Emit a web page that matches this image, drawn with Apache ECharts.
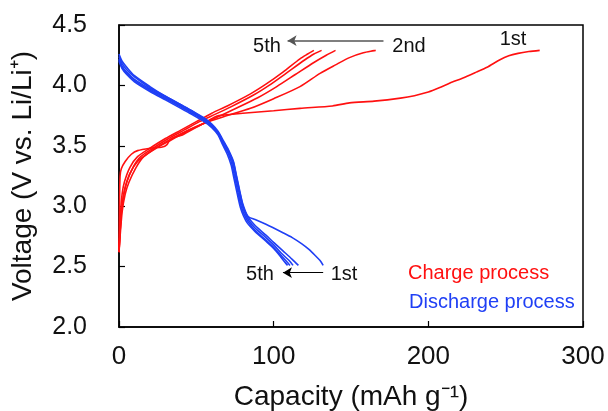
<!DOCTYPE html>
<html>
<head>
<meta charset="utf-8">
<title>Charge / discharge curves</title>
<script src="https://cdn.jsdelivr.net/npm/echarts@6/dist/echarts.min.js"></script>
<style>
	html, body { margin: 0; padding: 0; background: #fff; }
	#chart { width: 608px; height: 411px; }
</style>
</head>
<body>
<div id="chart"></div>
<script type="text/javascript">
	// capacity (mAh/g), voltage (V)
	var charge1 = [[0,2.62],[0.3,3.0],[0.7,3.25],[1.5,3.31],[4,3.37],[8,3.43],[12,3.46],[20,3.48],[28,3.49],[31,3.51],[33,3.55],[36,3.57],[41,3.59],[51,3.66],[58,3.71],[63,3.745],[68,3.755],[80,3.77],[100,3.79],[117,3.81],[138,3.83],[149,3.855],[165,3.87],[182,3.895],[191,3.915],[200,3.945],[207,3.98],[214,4.02],[222,4.06],[231,4.11],[238,4.15],[246,4.21],[252,4.245],[258,4.265],[265,4.28],[272,4.29]];
	var charge2 = [[0,2.62],[1,2.85],[2,3.0],[4,3.15],[7,3.27],[12,3.37],[20,3.45],[30,3.53],[40,3.6],[50,3.66],[60,3.71],[70,3.75],[85,3.81],[100,3.89],[117,3.99],[130,4.1],[140,4.17],[149,4.23],[158,4.27],[166,4.29]];
	var charge3 = [[0,2.62],[2,2.95],[4,3.1],[6.5,3.2],[11,3.32],[16,3.41],[24,3.48],[34,3.55],[44,3.62],[54,3.68],[64,3.74],[74,3.8],[90,3.9],[102,3.99],[114,4.09],[126,4.19],[134,4.25],[140,4.29]];
	var charge4 = [[0,2.62],[1.5,2.95],[3,3.1],[5,3.2],[9,3.32],[14,3.41],[22,3.48],[32,3.56],[42,3.63],[52,3.7],[62,3.76],[72,3.82],[87,3.92],[97,4.0],[108,4.1],[120,4.21],[126,4.26],[131,4.29]];
	var charge5 = [[0,2.62],[1,2.95],[2,3.1],[3.5,3.2],[7,3.32],[12,3.41],[20,3.48],[30,3.56],[40,3.63],[50,3.7],[60,3.77],[70,3.83],[85,3.93],[95,4.01],[106,4.11],[117,4.22],[122,4.26],[126,4.29]];

	var discharge1 = [[0,4.26],[2,4.2],[5,4.15],[10,4.08],[20,3.99],[30,3.91],[40,3.84],[47,3.79],[55,3.72],[60,3.67],[64,3.61],[68,3.52],[71,3.45],[74,3.36],[76,3.24],[78,3.12],[80,3.01],[82,2.94],[84,2.91],[88,2.89],[95,2.85],[106,2.78],[112,2.74],[118,2.69],[123,2.64],[127,2.59],[130,2.55],[132,2.51]];
	var discharge2 = [[0,4.24],[2,4.18],[5,4.13],[10,4.07],[20,3.98],[30,3.91],[40,3.84],[47,3.79],[55,3.73],[60,3.68],[64,3.62],[68,3.53],[71,3.46],[74,3.37],[76,3.25],[78,3.13],[80,3.02],[82,2.95],[84,2.9],[88,2.84],[95,2.76],[100,2.7],[106,2.63],[112,2.56],[116,2.51]];
	var discharge3 = [[0,4.22],[2,4.16],[5,4.11],[10,4.05],[20,3.97],[30,3.9],[40,3.83],[47,3.78],[55,3.72],[60,3.67],[64,3.61],[68,3.52],[71,3.45],[73.5,3.36],[75.5,3.24],[77.5,3.12],[79.5,3.01],[81.5,2.94],[84,2.88],[88,2.82],[95,2.74],[100,2.68],[105,2.61],[110,2.55],[112.5,2.51]];
	var discharge4 = [[0,4.21],[2,4.15],[5,4.1],[10,4.04],[20,3.96],[30,3.89],[40,3.82],[47,3.77],[55,3.71],[60,3.66],[64,3.6],[67.5,3.51],[70.5,3.44],[73,3.35],[75,3.23],[77,3.11],[79,3.0],[81,2.93],[83.5,2.87],[88,2.8],[95,2.72],[100,2.66],[105,2.59],[108.5,2.54],[110.5,2.51]];
	var discharge5 = [[0,4.2],[2,4.14],[5,4.09],[10,4.03],[20,3.95],[30,3.88],[40,3.81],[47,3.76],[55,3.7],[60,3.65],[64,3.59],[67,3.51],[70,3.43],[72.5,3.34],[74.5,3.22],[76.5,3.1],[78.5,2.99],[80.5,2.92],[83,2.86],[88,2.79],[95,2.71],[100,2.65],[104,2.59],[107,2.54],[109,2.51]];

	var chargeSets = [charge1, charge2, charge3, charge4, charge5];
	var dischargeSets = [discharge1, discharge2, discharge3, discharge4, discharge5];

	var RED = '#ff1010';
	var BLUE = '#1f3ff5';
	var FONT = '"Liberation Sans", Arial, sans-serif';

	function curve(data, color) {
		return {
			type : 'line',
			data : data,
			showSymbol : false,
			smooth : 0.25,
			lineStyle : { color : color, width : 1.6 },
			silent : true
		};
	}

	var series = [];
	chargeSets.forEach(function(d){ series.push(curve(d, RED)); });
	dischargeSets.forEach(function(d){ series.push(curve(d, BLUE)); });

	// arrows between cycle labels
	series.push({
		type : 'line',
		data : [],
		markLine : {
			silent : true,
			symbol : ['none', 'arrow'],
			symbolSize : [8, 9],
			label : { show : false },
			data : [
				[{ coord : [171, 4.37], lineStyle : { color : '#555', width : 1.5, type : 'solid' } }, { coord : [109, 4.37] }],
				[{ coord : [132, 2.45], lineStyle : { color : '#000', width : 1.2, type : 'solid' } }, { coord : [106, 2.45] }]
			]
		}
	});

	function note(x, y, text, color, size, align) {
		return {
			type : 'text', x : x, y : y,
			style : { text : text, fill : color, font : size + 'px ' + FONT, align : align || 'center', verticalAlign : 'middle' }
		};
	}

	var chart = echarts.init(document.getElementById('chart'));
	chart.setOption({
		animation : false,
		grid : {
			left : 119,
			right : 25,
			top : 25,
			bottom : 84,
			outerBoundsMode : 'none',
			show : true,
			borderColor : '#000',
			borderWidth : 1.5
		},
		xAxis : {
			type : 'value',
			min : 0,
			max : 300,
			interval : 100,
			name : 'Capacity (mAh g\u207B\u00B9)',
			nameLocation : 'middle',
			nameGap : 56,
			nameTextStyle : { fontSize : 28, color : '#111', fontFamily : FONT },
			axisLine : { lineStyle : { color : '#000', width : 1.5 } },
			axisTick : { inside : true, length : 6, lineStyle : { color : '#000', width : 1.2 } },
			axisLabel : { fontSize : 26, color : '#111', margin : 17, fontFamily : FONT },
			splitLine : { show : false }
		},
		yAxis : {
			type : 'value',
			min : 2,
			max : 4.5,
			interval : 0.5,
			name : 'Voltage (V vs. Li/Li\u207A)',
			nameLocation : 'middle',
			nameGap : 82,
			nameTextStyle : { fontSize : 28, color : '#111', fontFamily : FONT },
			axisLine : { lineStyle : { color : '#000', width : 1.5 } },
			axisTick : { inside : true, length : 6, lineStyle : { color : '#000', width : 1.2 } },
			axisLabel : {
				fontSize : 25, color : '#111', margin : 32, fontFamily : FONT,
				formatter : function(v){ return v.toFixed(1); }
			},
			splitLine : { show : false }
		},
		graphic : [
			note(267, 46, '5th', '#111', 20),
			note(409, 46, '2nd', '#111', 20),
			note(513, 39, '1st', '#111', 20),
			note(260, 274, '5th', '#111', 20),
			note(344, 274, '1st', '#111', 20),
			note(408, 273, 'Charge process', RED, 20, 'left'),
			note(409, 302, 'Discharge process', BLUE, 20, 'left')
		],
		series : series
	});
</script>
</body>
</html>
